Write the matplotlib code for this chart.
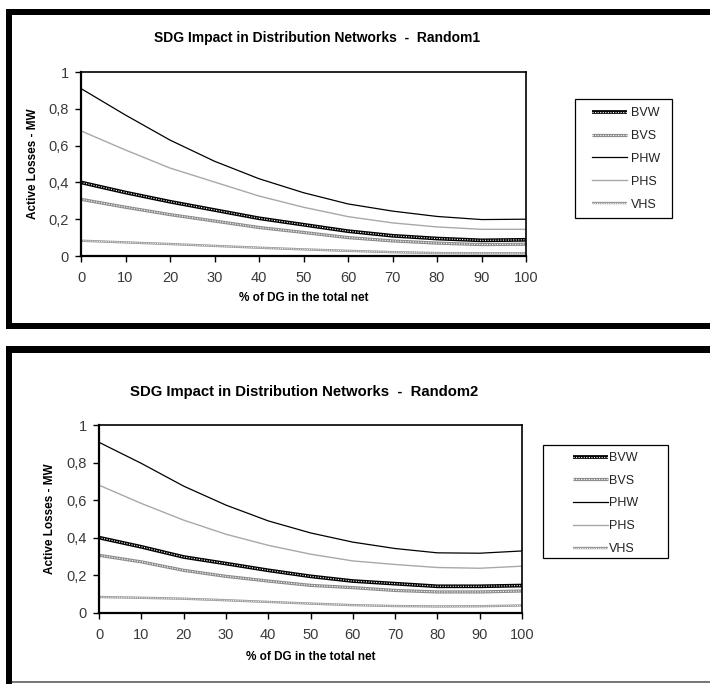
import matplotlib
matplotlib.use('Agg')
import matplotlib.pyplot as plt
from matplotlib.patches import Rectangle
from matplotlib.legend_handler import HandlerTuple

plt.rcParams['font.family'] = ['Liberation Sans', 'DejaVu Sans']

W, H = 710, 684

# data
dg_share = [0, 10, 20, 30, 40, 50, 60, 70, 80, 90, 100]
series_names = ['BVW', 'BVS', 'PHW', 'PHS', 'VHS']

r1_bvw = [0.40, 0.345, 0.295, 0.25, 0.205, 0.17, 0.135, 0.11, 0.095, 0.085, 0.088]
r1_bvs = [0.308, 0.265, 0.225, 0.19, 0.155, 0.128, 0.10, 0.082, 0.07, 0.062, 0.064]
r1_phw = [0.91, 0.766, 0.63, 0.515, 0.42, 0.344, 0.283, 0.244, 0.215, 0.198, 0.20]
r1_phs = [0.68, 0.576, 0.478, 0.402, 0.326, 0.265, 0.214, 0.18, 0.158, 0.145, 0.145]
r1_vhs = [0.083, 0.074, 0.065, 0.055, 0.045, 0.036, 0.028, 0.021, 0.016, 0.015, 0.015]

r2_bvw = [0.401, 0.352, 0.298, 0.263, 0.227, 0.195, 0.17, 0.156, 0.142, 0.142, 0.146]
r2_bvs = [0.307, 0.272, 0.227, 0.195, 0.17, 0.147, 0.135, 0.12, 0.112, 0.112, 0.117]
r2_phw = [0.908, 0.796, 0.675, 0.574, 0.49, 0.426, 0.377, 0.343, 0.32, 0.318, 0.33]
r2_phs = [0.68, 0.583, 0.494, 0.419, 0.36, 0.313, 0.277, 0.258, 0.242, 0.238, 0.249]
r2_vhs = [0.085, 0.081, 0.076, 0.068, 0.059, 0.05, 0.042, 0.037, 0.035, 0.036, 0.04]

x_ticks = [0, 10, 20, 30, 40, 50, 60, 70, 80, 90, 100]
y_ticks = [0, 0.2, 0.4, 0.6, 0.8, 1.0]
y_ticklabels = ['0', '0,2', '0,4', '0,6', '0,8', '1']


def px_rect(x0, y0, x1, y1):
    # pixel box (top-left origin) -> figure fraction [left, bottom, width, height]
    return [x0 / W, 1 - y1 / H, (x1 - x0) / W, (y1 - y0) / H]


def add_band(fig, x0, y0, x1, y1, color='black', fill=True, lw=0):
    l, b, w, h = px_rect(x0, y0, x1, y1)
    if fill:
        r = Rectangle((l, b), w, h, transform=fig.transFigure,
                      facecolor=color, edgecolor='none', zorder=0)
    else:
        r = Rectangle((l, b), w, h, transform=fig.transFigure,
                      facecolor='none', edgecolor=color, lw=lw, zorder=0)
    fig.patches.append(r)


def chain_line(ax, x, y, color, lw_base, lw_inner):
    # thick line with a white dashed core -> beaded look of the excel markers
    base, = ax.plot(x, y, color=color, lw=lw_base, solid_capstyle='butt')
    inner, = ax.plot(x, y, color='white', lw=lw_inner, dashes=(1.0, 1.3))
    return (base, inner)


def draw_chart(fig, box, title, title_pos, title_size, xlabel_y, ylabel_x, data,
               legend_frame, legend_anchor, spacing, text_pad):
    ax = fig.add_axes(px_rect(*box))
    bvw, bvs, phw, phs, vhs = data

    h_bvw = chain_line(ax, dg_share, bvw, 'black', 2.7, 0.8)
    h_bvs = chain_line(ax, dg_share, bvs, '#8c8c8c', 2.3, 0.8)
    h_phw, = ax.plot(dg_share, phw, color='black', lw=0.9)
    h_phs, = ax.plot(dg_share, phs, color='#a8a8a8', lw=1.0)
    h_vhs = chain_line(ax, dg_share, vhs, '#9a9a9a', 1.7, 0.7)

    ax.set_xlim(0, 100)
    ax.set_ylim(0, 1)
    ax.set_xticks(x_ticks)
    ax.set_yticks(y_ticks)
    ax.set_yticklabels(y_ticklabels)
    ax.tick_params(direction='out', length=4, width=1, labelsize=10.5,
                   labelcolor='#3a3a3a', pad=5)
    ax.tick_params(axis='x', pad=7)
    for s in ax.spines.values():
        s.set_linewidth(1.2)
    ax.spines['left'].set_linewidth(1.6)
    ax.spines['bottom'].set_linewidth(1.6)

    tx, ty = title_pos
    fig.text(tx / W, 1 - ty / H, title, ha='center', va='center',
             fontsize=title_size, fontweight='bold')
    cx = (box[0] + box[2]) / 2
    fig.text(cx / W, 1 - xlabel_y / H, '% of DG in the total net', ha='center',
             va='center', fontsize=8.5, fontweight='bold')
    cy = (box[1] + box[3]) / 2
    fig.text(ylabel_x / W, 1 - cy / H, 'Active Losses - MW', ha='center',
             va='center', rotation=90, fontsize=8.5, fontweight='bold')

    add_band(fig, *legend_frame, fill=False, lw=0.9)
    lx, ly = legend_anchor
    leg = ax.legend([h_bvw, h_bvs, h_phw, h_phs, h_vhs], series_names,
                    handler_map={tuple: HandlerTuple(ndivide=1)},
                    loc='upper left', bbox_to_anchor=(lx / W, 1 - ly / H),
                    bbox_transform=fig.transFigure, frameon=False, fontsize=9,
                    handlelength=2.8, handletextpad=text_pad, labelspacing=spacing,
                    borderpad=0, borderaxespad=0)
    for t in leg.get_texts():
        t.set_color('#222222')
    return ax


fig = plt.figure(figsize=(W / 100, H / 100), dpi=100)

# black frames around the two chart areas
add_band(fig, 6, 9, 12, 329)
add_band(fig, 6, 9, 710, 15)
add_band(fig, 6, 323, 710, 329)
add_band(fig, 6, 346, 12, 684)
add_band(fig, 6, 346, 710, 353)
add_band(fig, 12, 681, 710, 683, color='#777777')

draw_chart(fig, (81, 72, 526, 256), 'SDG Impact in Distribution Networks  -  Random1',
           (317, 38), 10, 298, 33, [r1_bvw, r1_bvs, r1_phw, r1_phs, r1_vhs],
           (575, 99, 672, 218), (592, 107), 0.87, 0.3)
draw_chart(fig, (99, 425, 522, 613), 'SDG Impact in Distribution Networks  -  Random2',
           (304, 392), 10.7, 657, 50, [r2_bvw, r2_bvs, r2_phw, r2_phs, r2_vhs],
           (543, 445, 668, 558), (573, 452), 0.86, 0.1)

plt.savefig('out.png', dpi=100)
